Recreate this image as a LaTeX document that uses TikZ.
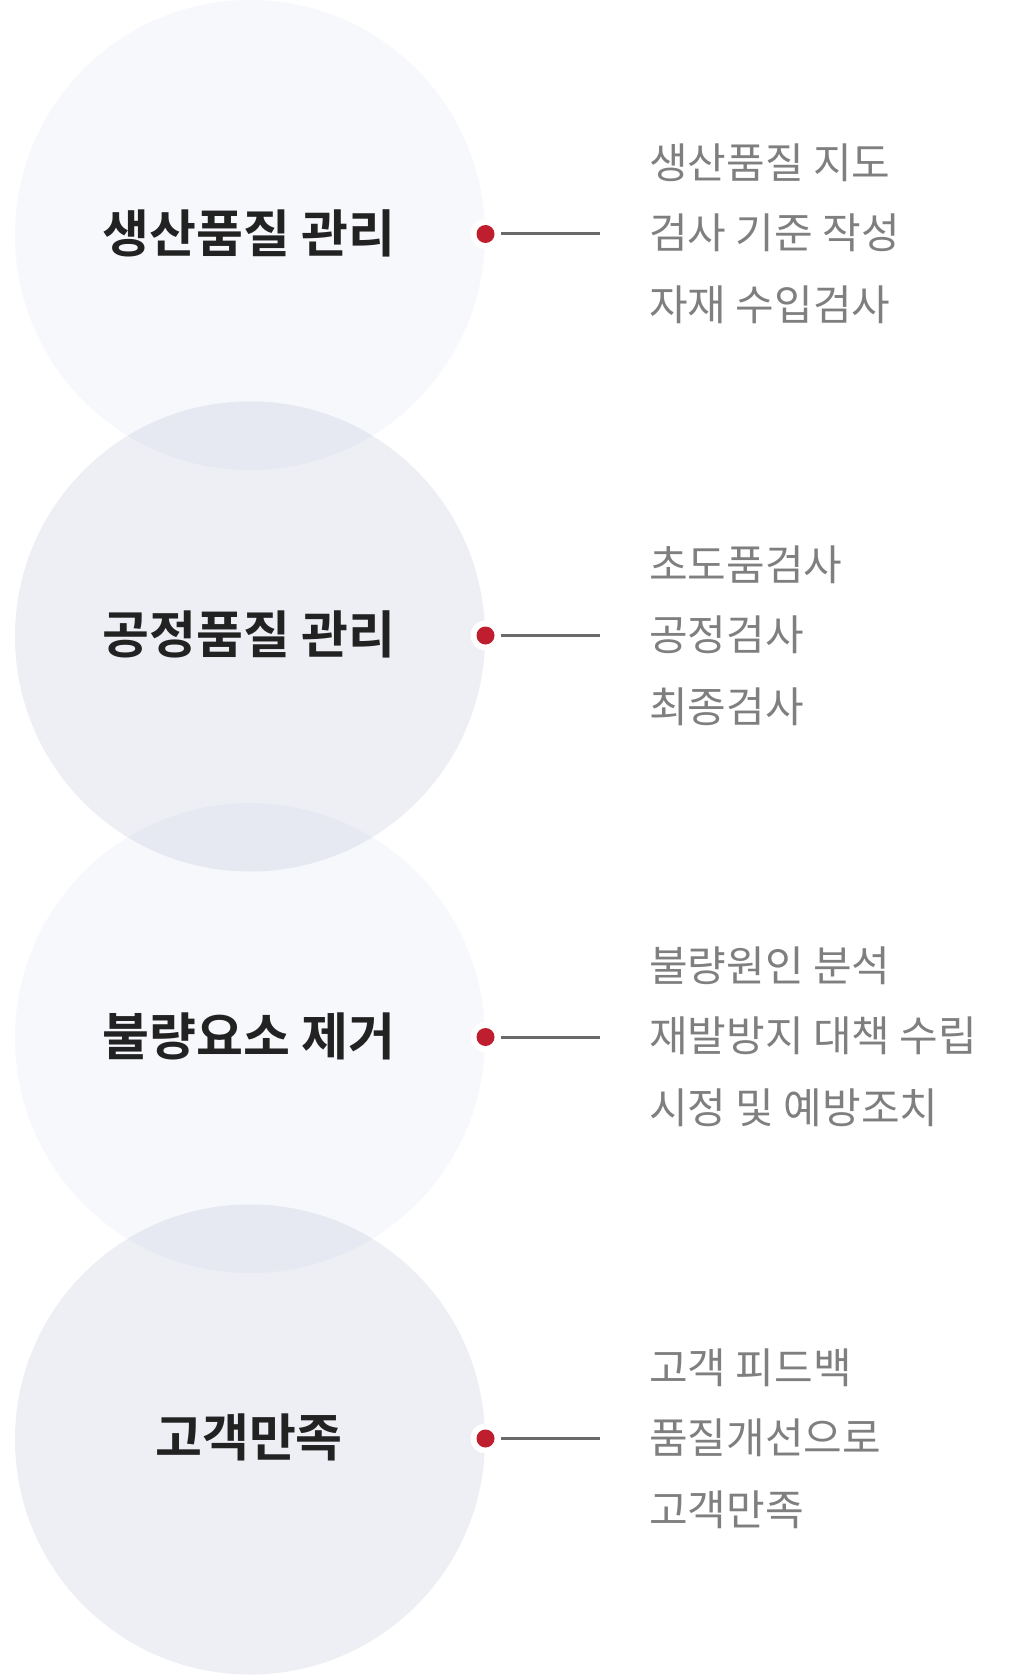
\documentclass[tikz,border=0pt]{standalone}
\usepackage{fontspec}
\setmainfont{Noto Sans CJK KR}
\newfontfamily\krbold{Noto Sans CJK KR Bold}
\definecolor{cLight}{HTML}{F7F8FC}
\definecolor{cDark}{HTML}{EDEFF5}
\definecolor{cOver}{HTML}{E6E9F1}
\definecolor{cRed}{HTML}{BE1E2D}
\definecolor{cLine}{HTML}{6A6A6A}
\definecolor{cTitle}{HTML}{222222}
\definecolor{cSub}{HTML}{7F7F7F}
\begin{document}
\begin{tikzpicture}[x=1pt,y=-1pt,
  titletext/.style={font=\krbold\fontsize{51}{55}\selectfont, text=cTitle, inner sep=0pt},
  subtext/.style={font=\fontsize{42}{46}\selectfont, text=cSub, anchor=west, inner sep=0pt},
  ring/.style={circle, fill=white, minimum size=30pt, inner sep=0pt},
  reddot/.style={circle, fill=cRed, minimum size=18pt, inner sep=0pt},
  leader/.style={draw=cLine, line width=3pt}]
\useasboundingbox (0,0) rectangle (1020,1677);
\fill[white] (0,0) rectangle (1020,1677);
% circles
\fill[cLight] (250,235) circle (235);
\fill[cDark] (250,636.5) circle (235);
\fill[cLight] (250,1038) circle (235);
\fill[cDark] (250,1439.5) circle (235);
% overlaps
\begin{scope}
\clip (250,235) circle (235);
\fill[cOver] (250,636.5) circle (235);
\end{scope}
\begin{scope}
\clip (250,636.5) circle (235);
\fill[cOver] (250,1038) circle (235);
\end{scope}
\begin{scope}
\clip (250,1038) circle (235);
\fill[cOver] (250,1439.5) circle (235);
\end{scope}
% block 1
\node[titletext] (t1) at (249,233) {생산품질 관리};
\node[ring] (r1) at (485.5,234) {};
\node[reddot] (d1) at (485.5,234) {};
\coordinate (e1) at (600,234);
\draw[leader] (501,234) -- (e1);
\node[subtext] (s1a) at (649,163) {생산품질 지도};
\node[subtext] (s1b) at (649,233) {검사 기준 작성};
\node[subtext] (s1c) at (649,305) {자재 수입검사};
% block 2
\node[titletext] (t2) at (249,634.5) {공정품질 관리};
\node[ring] (r2) at (485.5,635.5) {};
\node[reddot] (d2) at (485.5,635.5) {};
\coordinate (e2) at (600,635.5);
\draw[leader] (501,635.5) -- (e2);
\node[subtext] (s2a) at (649,564.5) {초도품검사};
\node[subtext] (s2b) at (649,634.5) {공정검사};
\node[subtext] (s2c) at (649,706.5) {최종검사};
% block 3
\node[titletext] (t3) at (249,1036) {불량요소 제거};
\node[ring] (r3) at (485.5,1037) {};
\node[reddot] (d3) at (485.5,1037) {};
\coordinate (e3) at (600,1037);
\draw[leader] (501,1037) -- (e3);
\node[subtext] (s3a) at (649,966) {불량원인 분석};
\node[subtext] (s3b) at (649,1036) {재발방지 대책 수립};
\node[subtext] (s3c) at (649,1108) {시정 및 예방조치};
% block 4
\node[titletext] (t4) at (249,1437.5) {고객만족};
\node[ring] (r4) at (485.5,1438.5) {};
\node[reddot] (d4) at (485.5,1438.5) {};
\coordinate (e4) at (600,1438.5);
\draw[leader] (501,1438.5) -- (e4);
\node[subtext] (s4a) at (649,1367.5) {고객 피드백};
\node[subtext] (s4b) at (649,1437.5) {품질개선으로};
\node[subtext] (s4c) at (649,1509.5) {고객만족};
\end{tikzpicture}
\end{document}
